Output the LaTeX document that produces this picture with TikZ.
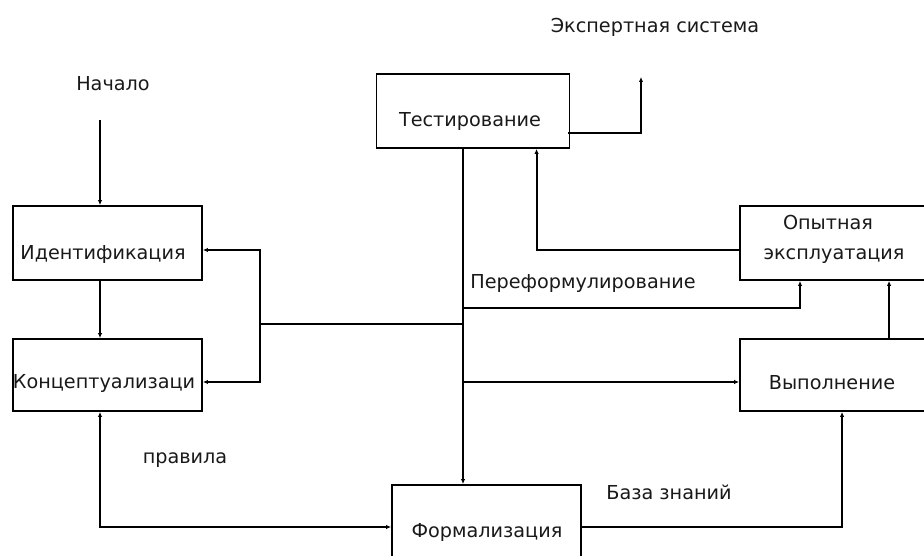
\documentclass[tikz,border=0pt]{standalone}
\usepackage{fontspec}
\setmainfont{DejaVu Sans}
\usetikzlibrary{arrows.meta,calc}
\begin{document}
\begin{tikzpicture}[x=1bp,y=-1bp,
  line width=1.9bp,
  box/.style={draw, rectangle, inner sep=0pt, line width=1.9bp},
  lbl/.style={inner sep=0pt, text=black!90, font=\fontsize{19.3}{22}\selectfont},
  arr/.style={-{Latex[length=5bp,width=4.5bp]}},
  arrb/.style={{Latex[length=5bp,width=4.5bp]}-{Latex[length=5bp,width=4.5bp]}}]
  \useasboundingbox (0,0) rectangle (924,556);

  % process stages
  \node[box, minimum width=193bp, minimum height=74bp] (test)  at (473,111)   {};
  \node[box, minimum width=189bp, minimum height=74bp] (ident) at (107.5,243) {};
  \node[box, minimum width=189bp, minimum height=72bp] (konc)  at (107.5,375) {};
  \node[box, minimum width=188bp, minimum height=74bp] (opyt)  at (834,243)   {};
  \node[box, minimum width=188bp, minimum height=72bp] (vyp)   at (834,375)   {};
  \node[box, minimum width=189bp, minimum height=84bp] (form)  at (486.5,527) {};

  % stage names
  \node[lbl] (ttest)  at (470,121) {Тестирование};
  \node[lbl] (tident) at (103,254) {Идентификация};
  \node[lbl] (tkonc)  at (104,383) {Концептуализаци};
  \node[lbl] (topyt1) at (828,223) {Опытная};
  \node[lbl] (topyt2) at (834,256) {эксплуатация};
  \node[lbl] (tvyp)   at (832,383) {Выполнение};
  \node[lbl] (tform)  at (487,532) {Формализация};

  % free labels
  \node[lbl] (start lbl) at (113,84)  {Начало};
  \node[lbl] (es lbl)    at (655,27)  {Экспертная система};
  \node[lbl] (pf lbl)    at (583,283) {Переформулирование};
  \node[lbl] (pr lbl)    at (185,460) {правила};
  \node[lbl] (kb lbl)    at (669,492) {База знаний};

  % junction points
  \coordinate (start) at (100,120);
  \coordinate (es)    at (641,77);
  \coordinate (trunk) at (463,0);
  \coordinate (bx)    at (260,324);
  \coordinate (pf)    at (800,308);
  \coordinate (ex)    at (463,382);

  % left column
  \draw[arr] (start) -- (ident.north -| start);
  \draw[arr] (ident.south -| start) -- (konc.north -| start);
  \draw[arrb] (konc.south -| start) |- (form.west);

  % main trunk from testing down to formalization
  \draw[arr] (test.south -| trunk) -- (form.north -| trunk);

  % feedback to identification and conceptualization
  \draw (trunk |- bx) -- (bx);
  \draw[arr] (bx) |- ($(ident.east)+(0,7)$);
  \draw[arr] (bx) |- ($(konc.east)+(0,7)$);

  % reformulation branch
  \draw[arr] (trunk |- pf) -| (opyt.south -| pf);
  \draw[arr] (ex) -- (vyp.west |- ex);

  % knowledge base to execution
  \draw[arr] (form.east) -| ($(vyp.south west)+(103,0)$);

  % execution to trial operation
  \draw[arr] ($(vyp.north west)+(150,0)$) -- ($(opyt.south west)+(150,0)$);

  % trial operation back to testing
  \draw[arr] ($(opyt.west)+(0,7)$) -| ($(test.south west)+(161,0)$);

  % testing to expert system
  \draw[arr] ($(test.east)+(-2,22)$) -| (es);
\end{tikzpicture}
\end{document}
